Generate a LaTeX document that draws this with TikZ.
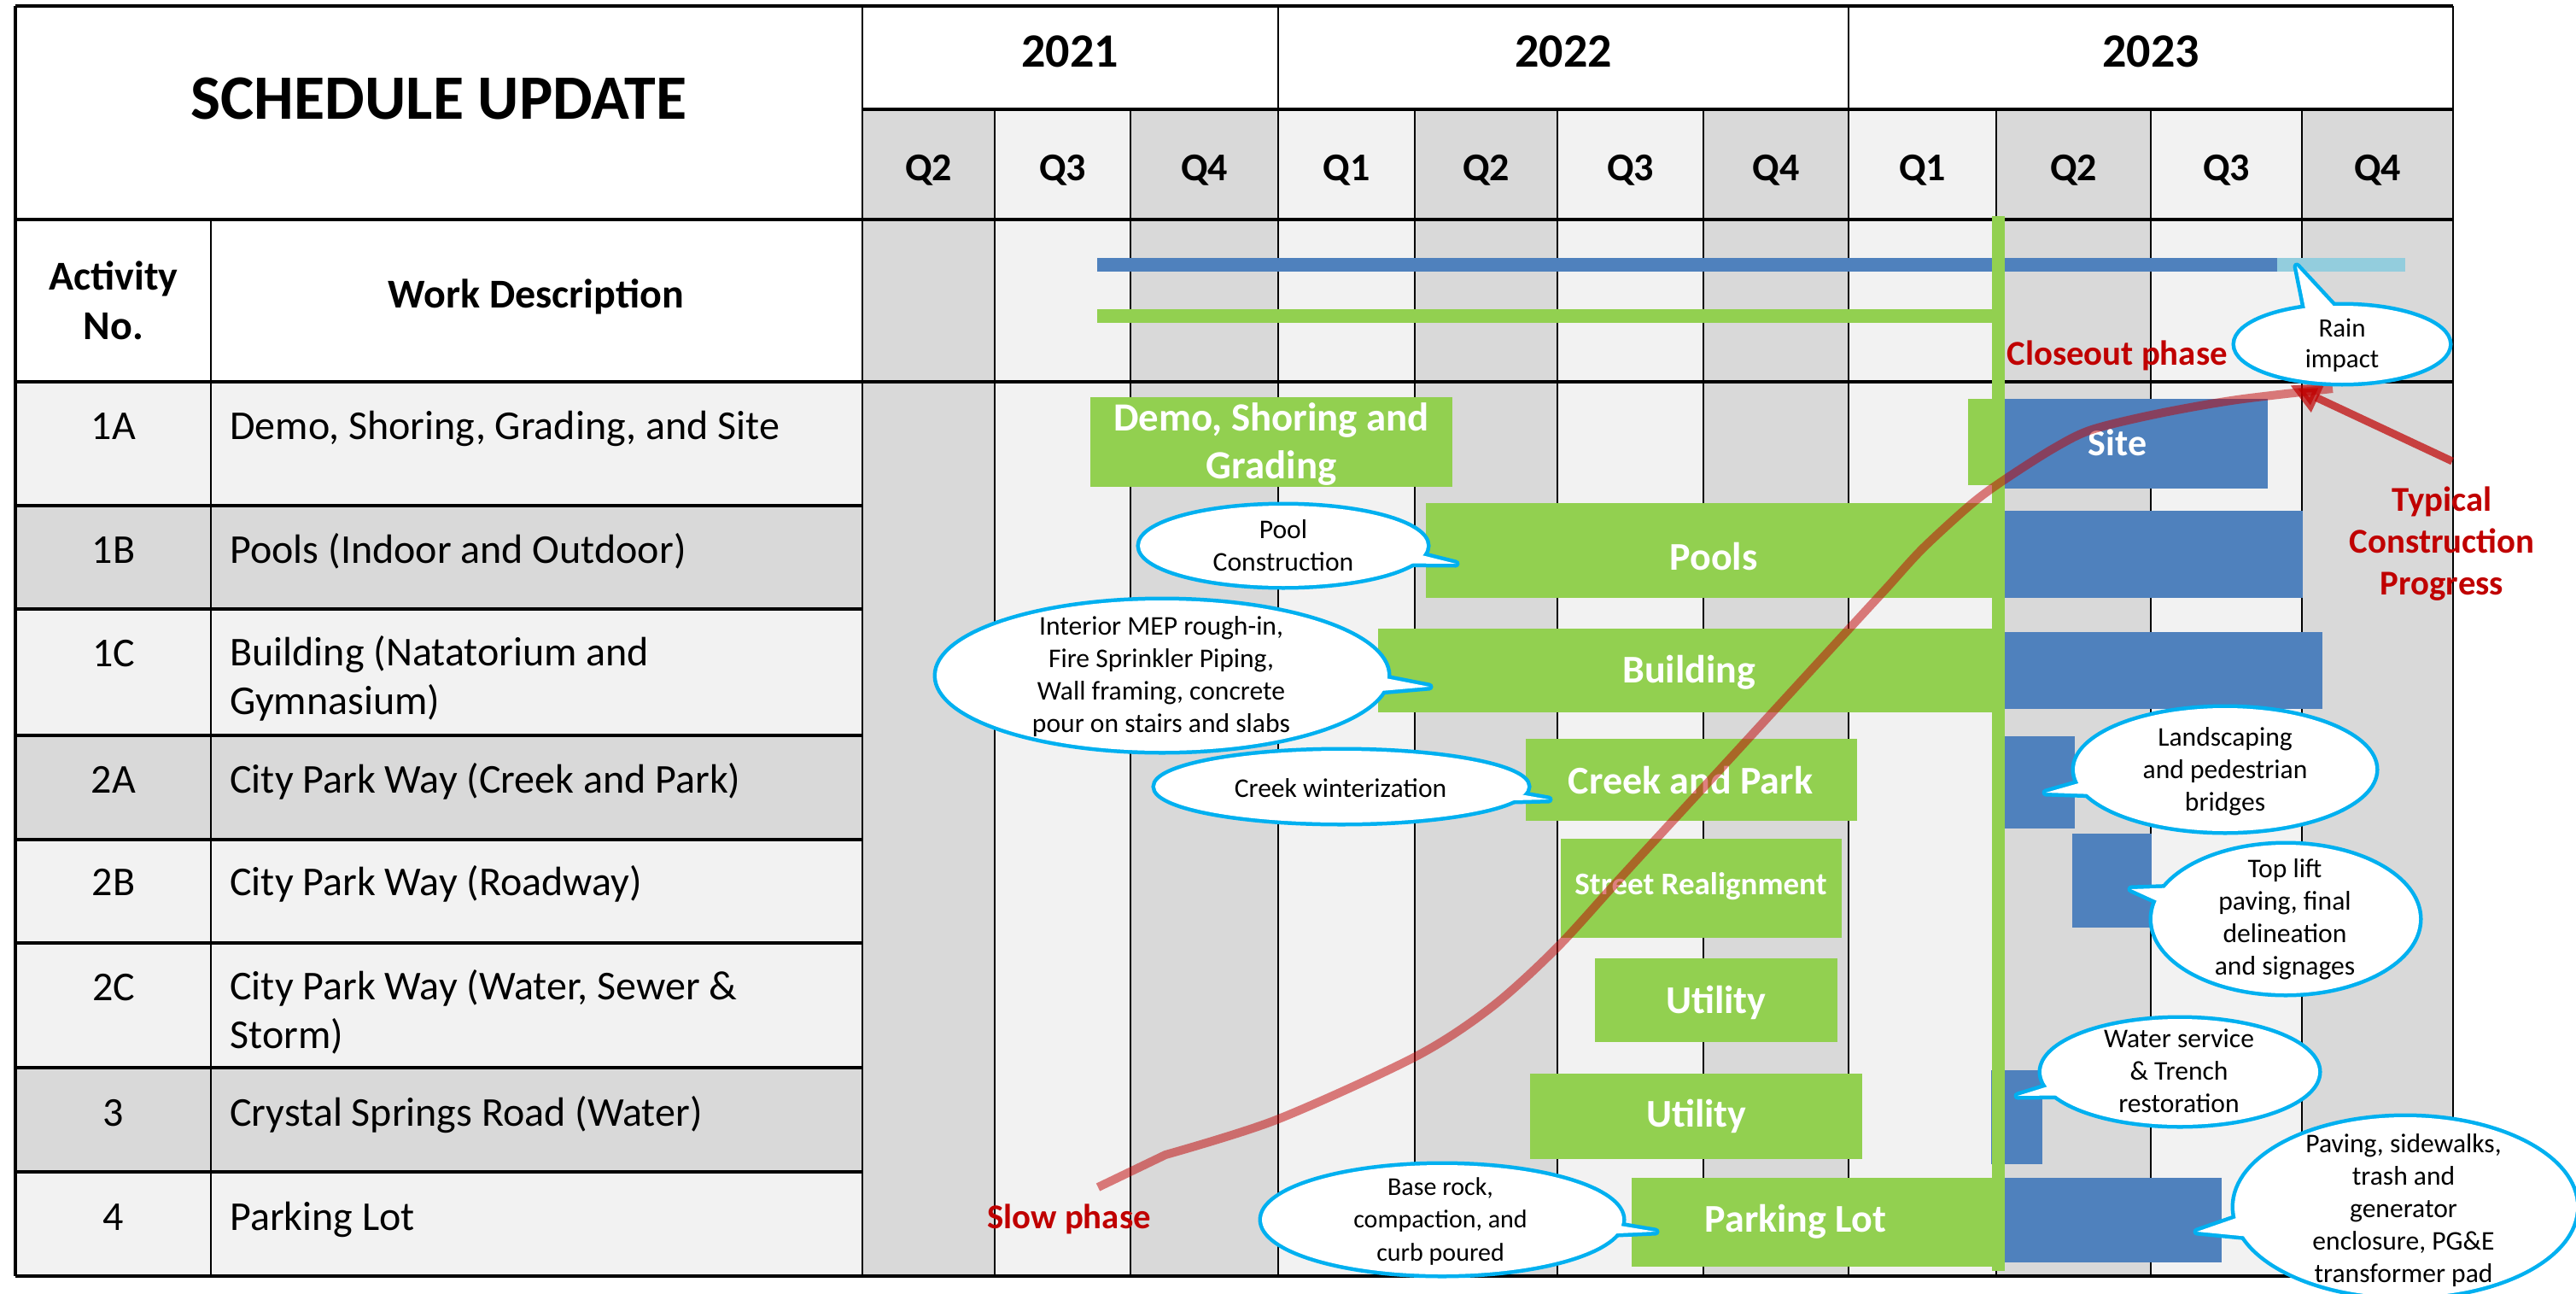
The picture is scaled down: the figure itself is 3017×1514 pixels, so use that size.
\documentclass[tikz,border=0pt]{standalone}
\usepackage{fontspec}
\setmainfont{Carlito}
\usetikzlibrary{calc,arrows.meta}
\definecolor{dk}{HTML}{D9D9D9}
\definecolor{lt}{HTML}{F2F2F2}
\definecolor{gr}{HTML}{92D050}
\definecolor{bl}{HTML}{4F81BD}
\definecolor{lb}{HTML}{93CDDD}
\definecolor{cb}{HTML}{00B0F0}
\definecolor{dr}{HTML}{C00000}
% #1 centre, #2 x radius, #3 y radius, #4 wedge base A, #5 tip, #6 wedge base B
\newcommand\mycallout[6]{%
  \draw[cb, line width=4.5pt] #1 ellipse [x radius=#2, y radius=#3];
  \draw[cb, line width=4.5pt, line join=round] ($#4!0.15!#1$) -- #5 -- ($#6!0.15!#1$) -- cycle;
  \fill[white] #1 ellipse [x radius=#2, y radius=#3];
  \fill[white] ($#4!0.15!#1$) -- #5 -- ($#6!0.15!#1$) -- cycle;
}
\begin{document}
\begin{tikzpicture}[x=0.5pt,y=-0.5pt,
  thk/.style={line width=1.7pt, black},
  thn/.style={line width=1.1pt, black},
  ttl/.style={font=\bfseries\fontsize{37}{44}\selectfont, inner sep=0, anchor=base},
  yr/.style={font=\bfseries\fontsize{28}{34}\selectfont, inner sep=0, anchor=base},
  qlab/.style={font=\bfseries\fontsize{23}{28}\selectfont, inner sep=0, anchor=base},
  hdr/.style={font=\bfseries\fontsize{24}{29}\selectfont, inner sep=0},
  body/.style={font=\fontsize{24}{28.5}\selectfont, inner sep=0},
  barlab/.style={font=\bfseries\fontsize{23}{28}\selectfont, text=white, inner sep=0, anchor=base},
  ctext/.style={font=\fontsize{15.8}{19}\selectfont, inner sep=0, align=center},
  rlab/.style={font=\bfseries\fontsize{20.4}{24.5}\selectfont, text=dr, inner sep=0},
  gbar/.style={fill=gr},
  bbar/.style={fill=bl},
  scurve/.style={draw=dr, opacity=0.5, line width=5pt},
]
\useasboundingbox (0,0) rectangle (3017,1514);
\fill[white] (0,0) rectangle (3017,1514);

% quarter columns
\foreach \a/\b/\cl/\q [count=\i] in {1010/1165/dk/Q2,1165/1324/lt/Q3,1324/1497/dk/Q4,1497/1657/lt/Q1,1657/1824/dk/Q2,1824/1995/lt/Q3,1995/2165/dk/Q4,2165/2338/lt/Q1,2338/2519/dk/Q2,2519/2696/lt/Q3,2696/2873/dk/Q4}{
  \fill[\cl] (\a,128) rectangle (\b,1494);
  \node[qlab] (q\i) at ({(\a+\b)/2},212) {\q};
}
% row shading in the left table
\foreach \a/\b/\cl in {447/592/lt,592/713/dk,713/861/lt,861/983/dk,983/1104/lt,1104/1250/lt,1250/1372/dk,1372/1494/lt}{
  \fill[\cl] (18,\a) rectangle (1010,\b);
}

% grid
\draw[thk] (18,7) -- (2873,7);
\draw[thk] (1010,128) -- (2873,128);
\draw[thk] (18,257) -- (2873,257);
\draw[thk] (18,447) -- (2873,447);
\foreach \y in {592,713,861,983,1104,1250,1372}{\draw[thk] (18,\y) -- (1010,\y);}
\draw[thk] (18,1494) -- (2873,1494);
\foreach \x in {1165,1324,1657,1824,1995,2338,2519,2696}{\draw[thn] (\x,128) -- (\x,1494);}
\foreach \x in {1010,1497,2165,2873}{\draw[thn] (\x,7) -- (\x,1494);}
\draw[thk] (18,7) -- (18,1494);
\draw[thn] (247,257) -- (247,1494);

% header texts
\node[ttl] (title) at (514,140) {SCHEDULE UPDATE};
\node[yr] (y21) at (1253,79) {2021};
\node[yr] (y22) at (1831,79) {2022};
\node[yr] (y23) at (2519,79) {2023};
\node[hdr, align=center] (act) at (133,357) {\strut Activity\\\strut No.};
\node[hdr, anchor=base] (wd) at (628,360) {Work Description};

% body rows
\node[body, anchor=base] (n1a) at (133,514) {1A};
\node[body, anchor=base west] (d1a) at (269,514) {Demo, Shoring, Grading, and Site};
\node[body, anchor=base] (n1b) at (133,659) {1B};
\node[body, anchor=base west] (d1b) at (269,659) {Pools (Indoor and Outdoor)};
\node[body, anchor=base] (n1c) at (133,780) {1C};
\node[body, anchor=west, align=left] (d1c) at (269,797) {\strut Building (Natatorium and\\\strut Gymnasium)};
\node[body, anchor=base] (n2a) at (133,928) {2A};
\node[body, anchor=base west] (d2a) at (269,928) {City Park Way (Creek and Park)};
\node[body, anchor=base] (n2b) at (133,1048) {2B};
\node[body, anchor=base west] (d2b) at (269,1048) {City Park Way (Roadway)};
\node[body, anchor=base] (n2c) at (133,1171) {2C};
\node[body, anchor=west, align=left] (d2c) at (269,1188) {\strut City Park Way (Water, Sewer \&\\\strut Storm)};
\node[body, anchor=base] (n3) at (133,1318) {3};
\node[body, anchor=base west] (d3) at (269,1318) {Crystal Springs Road (Water)};
\node[body, anchor=base] (n4) at (133,1440) {4};
\node[body, anchor=base west] (d4) at (269,1440) {Parking Lot};

% overall bars in the header row
\fill[bl] (1285,302) rectangle (2667,318);
\fill[lb] (2667,302) rectangle (2817,318);
\fill[gr] (1285,362) rectangle (2340,378);

% green activity bars
\fill[gbar] (1277,465) rectangle (1701,570);
\fill[gbar] (2305,467) rectangle (2348,568);
\fill[gbar] (1670,589) rectangle (2340,700);
\fill[gbar] (1614,736) rectangle (2340,834);
\fill[gbar] (1787,865) rectangle (2175,961);
\fill[gbar] (1828,982) rectangle (2157,1098);
\fill[gbar] (1868,1122) rectangle (2152,1220);
\fill[gbar] (1792,1257) rectangle (2181,1357);
\fill[gbar] (1911,1379) rectangle (2348,1483);

% blue activity bars
\fill[bbar] (2348,467) rectangle (2656,572);
\fill[bbar] (2348,598) rectangle (2697,700);
\fill[bbar] (2348,740) rectangle (2720,830);
\fill[bbar] (2348,862) rectangle (2430,970);
\fill[bbar] (2427,976) rectangle (2520,1086);
\fill[bbar] (2332,1253) rectangle (2392,1363);
\fill[bbar] (2348,1379) rectangle (2602,1478);

% status line
\fill[gr] (2333,253) rectangle (2348,1488);

% bar labels
\node[barlab, font=\bfseries\fontsize{23.4}{28}\selectfont, anchor=center, align=center] (lDemo) at (1489,521) {\strut Demo, Shoring and\\\strut Grading};
\node[barlab] (lPools) at (2007,667) {Pools};
\node[barlab] (lBuild) at (1978,799) {Building};
\node[barlab] (lCreek) at (1980,929) {Creek and Park};
\node[barlab, font=\bfseries\fontsize{18.5}{22}\selectfont] (lStreet) at (1992,1047) {Street Realignment};
\node[barlab] (lUtil1) at (2010,1186) {Utility};
\node[barlab] (lUtil2) at (1987,1319) {Utility};
\node[barlab] (lPark) at (2103,1442) {Parking Lot};
\node[barlab, font=\bfseries\fontsize{22}{27}\selectfont] (lSite) at (2480,533) {Site};

% typical construction progress curve
\draw[scurve] (1286,1390) -- plot[smooth, tension=0.5] coordinates {(1365,1352) (1495,1311) (1658,1237) (1747,1179) (1824,1109) (1905,1020) (2041,872) (2164,738) (2210,688) (2252,642) (2309,590) (2347,562) (2405,525) (2450,503) (2529,484) (2620,468) (2732,455)};
\coordinate (arrS) at (2872,540);
\coordinate (arrE) at (2682,451);
\draw[dr, opacity=0.7, line width=4.5pt, -{Triangle[length=18pt,width=17pt]}] (arrS) -- (arrE);

% callouts
\mycallout{(1503,639)}{168}{47}{(1670,646)}{(1705,660)}{(1645,663)}
\node[ctext] (cPool) at (1503,642) {\strut Pool\\\strut Construction};
\mycallout{(1361,791)}{264}{88}{(1620,785)}{(1674,804)}{(1607,817)}
\node[ctext] (cMEP) at (1360,793) {\strut Interior MEP rough-in,\\\strut Fire Sprinkler Piping,\\\strut Wall framing, concrete\\\strut pour on stairs and slabs};
\mycallout{(1571,921)}{218}{42}{(1786,926)}{(1814,936)}{(1759,941)}
\node[ctext, anchor=base] (cCreek) at (1570,933) {Creek winterization};
\mycallout{(1689,1428)}{211}{64}{(1897,1430)}{(1939,1442)}{(1884,1449)}
\node[ctext, font=\fontsize{15}{19.25}\selectfont] (cBase) at (1687,1430) {\strut Base rock,\\\strut compaction, and\\\strut curb poured};
\mycallout{(2743,403)}{125}{45}{(2694,362)}{(2690,312)}{(2740,360)}
\node[ctext, font=\fontsize{15.5}{18}\selectfont] (cRain) at (2743,405) {\strut Rain\\\strut impact};
\mycallout{(2606,901)}{176}{72}{(2435,911)}{(2396,928)}{(2455,936)}
\node[ctext] (cLand) at (2606,904) {\strut Landscaping\\\strut and pedestrian\\\strut bridges};
\mycallout{(2677,1076)}{156}{87}{(2545,1032)}{(2496,1041)}{(2526,1063)}
\node[ctext] (cTop) at (2676,1077) {\strut Top lift\\\strut paving, final\\\strut delineation\\\strut and signages};
\mycallout{(2553,1255)}{162}{62}{(2397,1267)}{(2363,1283)}{(2419,1287)}
\node[ctext] (cWater) at (2552,1257) {\strut Water service\\\strut \& Trench\\\strut restoration};
\mycallout{(2817,1413)}{200}{105}{(2617,1417)}{(2573,1442)}{(2632,1457)}
\node[ctext] (cPave) at (2815,1418) {\strut Paving, sidewalks,\\\strut trash and\\\strut generator\\\strut enclosure, PG\&E\\\strut transformer pad};

% red labels
\node[rlab, anchor=base west] (rClose) at (2350,427) {Closeout phase};
\node[rlab, align=center] (rTyp) at (2860,638) {\strut Typical\\\strut Construction\\\strut Progress};
\node[rlab, anchor=base] (rSlow) at (1252,1438) {Slow phase};
\end{tikzpicture}
\end{document}
